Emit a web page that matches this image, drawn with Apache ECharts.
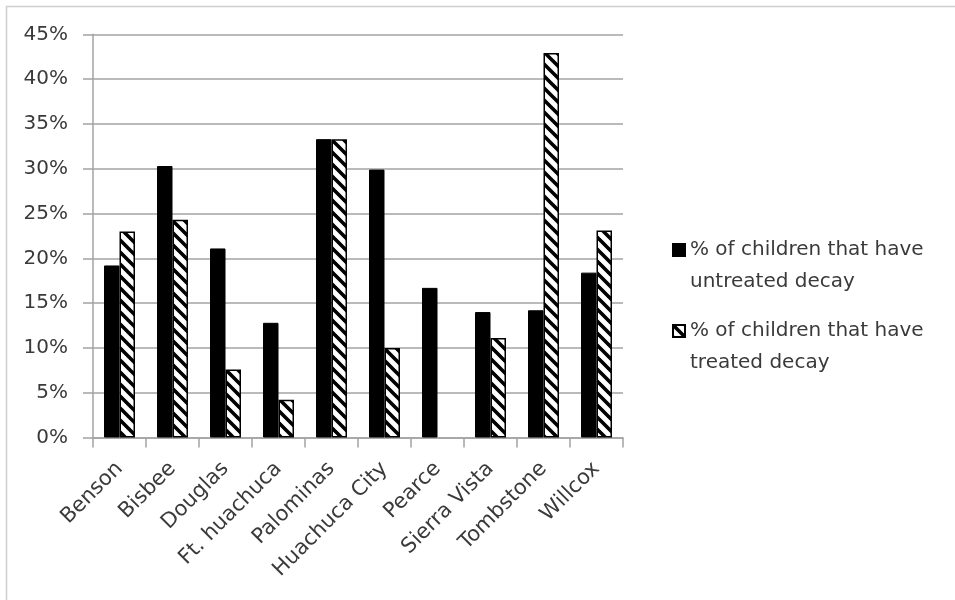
<!DOCTYPE html>
<html>
<head>
<meta charset="utf-8">
<script src="https://cdn.jsdelivr.net/npm/echarts@6/dist/echarts.min.js"></script>
<style>
  html, body { margin: 0; padding: 0; background: #fff; }
  #chart { width: 955px; height: 600px; }
</style>
</head>
<body>
<div id="chart"></div>
<script>
// Dental decay survey by town (percent of children)
const towns = ['Benson', 'Bisbee', 'Douglas', 'Ft. huachuca', 'Palominas',
               'Huachuca City', 'Pearce', 'Sierra Vista', 'Tombstone', 'Willcox'];
const untreatedDecay = [19.2, 30.3, 21.1, 12.8, 33.3, 29.9, 16.7, 14.0, 14.2, 18.4];
const treatedDecay   = [23.0, 24.3, 7.6, 4.2, 33.3, 10.0, null, 11.1, 42.9, 23.1];
const seriesNames = ['% of children that have untreated decay',
                     '% of children that have treated decay'];
const legendLines = [['% of children that have', 'untreated decay'],
                     ['% of children that have', 'treated decay']];
const yMax = 45;
const yStep = 5;

const FONT = '"DejaVu Sans", sans-serif';
const TEXT = '#3a3a3a';
const GRID_LINE = '#a3a3a3';
const LH = 32;   // legend line height

// diagonal hatch tile: black "\" stripes on white
function hatchTile() {
  const s = 12;
  const c = document.createElement('canvas');
  c.width = s; c.height = s;
  const g = c.getContext('2d');
  g.fillStyle = '#fff';
  g.fillRect(0, 0, s, s);
  g.strokeStyle = '#000';
  g.lineWidth = 3.6;
  g.beginPath();
  for (let k = -1; k <= 1; k++) {
    g.moveTo(k * s - 2, -2);
    g.lineTo(k * s + s + 2, s + 2);
  }
  g.stroke();
  return c;
}

// legend swatch sits beside the first text line: square at the top of a taller box
const SWATCH_H = 44;
const swatchIcon = 'path://M0,0h12v12h-12Z M12,' + SWATCH_H;

const chart = echarts.init(document.getElementById('chart'), null, { renderer: 'canvas' });

chart.setOption({
  animation: false,
  backgroundColor: '#fff',
  textStyle: { fontFamily: FONT },
  graphic: [{
    type: 'rect',
    silent: true,
    shape: { x: 6.5, y: 6.5, width: 1000, height: 700 },
    style: { fill: 'none', stroke: '#cfcfcf', lineWidth: 1.5 }
  }],
  grid: { left: 93, right: 332, top: 34.3, bottom: 162.5, containLabel: false },
  legend: {
    orient: 'vertical',
    left: 667,
    top: 229,
    itemGap: 17,
    itemWidth: 12,
    itemHeight: SWATCH_H,
    icon: swatchIcon,
    selectedMode: false,
    data: seriesNames,
    formatter: name => legendLines[seriesNames.indexOf(name)].join('\n'),
    textStyle: {
      fontFamily: FONT, fontSize: 20, color: TEXT, lineHeight: LH
    }
  },
  xAxis: {
    type: 'category',
    data: towns,
    axisLine: { lineStyle: { color: GRID_LINE, width: 1.5 } },
    axisTick: { show: true, length: 10, lineStyle: { color: GRID_LINE, width: 1.5 } },
    axisLabel: {
      interval: 0, rotate: 45, margin: 28,
      fontFamily: FONT, fontSize: 21, color: TEXT
    }
  },
  yAxis: {
    type: 'value',
    min: 0, max: yMax, interval: yStep,
    axisLine: { show: true, lineStyle: { color: GRID_LINE, width: 1.5 } },
    axisTick: { show: true, length: 10, lineStyle: { color: GRID_LINE, width: 1.5 } },
    splitLine: { lineStyle: { color: GRID_LINE, width: 1.5 } },
    axisLabel: {
      formatter: '{value}%', margin: 25,
      fontFamily: FONT, fontSize: 20, color: TEXT
    }
  },
  series: [
    {
      name: seriesNames[0],
      type: 'bar',
      data: untreatedDecay,
      barWidth: 15.5,
      barGap: '0%',
      itemStyle: { color: '#000', borderColor: '#000', borderWidth: 1 }
    },
    {
      name: seriesNames[1],
      type: 'bar',
      data: treatedDecay,
      barWidth: 15.5,
      barGap: '0%',
      itemStyle: {
        color: { image: hatchTile(), repeat: 'repeat' },
        borderColor: '#000', borderWidth: 1.5
      }
    }
  ]
});
</script>
</body>
</html>
